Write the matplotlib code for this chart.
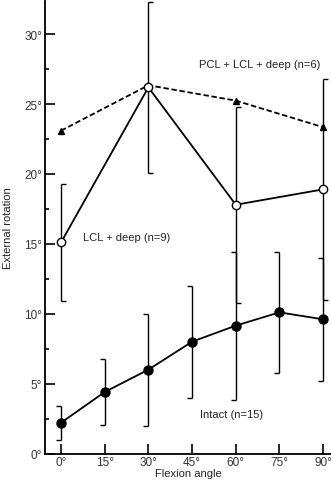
import numpy as np
import matplotlib.pyplot as plt

plt.rcParams['font.family'] = ['Liberation Sans', 'DejaVu Sans']
plt.rcParams['font.size'] = 8

# flexion angles (deg)
angles = [0, 15, 30, 45, 60, 75, 90]
intact = [2.2, 4.4, 6.0, 8.0, 9.15, 10.1, 9.6]
intact_err = [1.2, 2.35, 4.0, 4.0, 5.3, 4.35, 4.4]

lcl_angles = [0, 30, 60, 90]
lcl = [15.1, 26.2, 17.8, 18.9]
lcl_err = [4.2, 6.1, 7.0, 7.9]

pcl_angles = [0, 30, 60, 90]
pcl = [23.1, 26.35, 25.25, 23.35]

tick_labels = ["0°", "15°", "30°", "45°", "60°", "75°", "90°"]
ytick_labels = ["0°", "5°", "10°", "15°", "20°", "25°", "30°"]

cap_w = 1.7  # half-cap length in degrees of flexion

fig = plt.figure(figsize=(3.31, 4.85), dpi=100)
ax = fig.add_axes([45/331, 1 - 454.5/485, (331 - 45)/331, (454.5 - 1.7)/485])

# error bars (one-sided caps like the original)
ax.errorbar(angles, intact, yerr=intact_err, fmt='none', ecolor='k', elinewidth=1.0, capsize=0, zorder=1, clip_on=False)
lo = np.array(intact) - np.array(intact_err)
hi = np.array(intact) + np.array(intact_err)
ax.hlines(np.concatenate([lo, hi]), np.array(angles + angles) - cap_w, np.array(angles + angles), colors='k', lw=1.0, zorder=1)

ax.errorbar(lcl_angles, lcl, yerr=lcl_err, fmt='none', ecolor='k', elinewidth=1.0, capsize=0, zorder=1, clip_on=False)
lo = np.array(lcl) - np.array(lcl_err)
hi = np.array(lcl) + np.array(lcl_err)
ax.hlines(np.concatenate([lo, hi]), np.array(lcl_angles + lcl_angles), np.array(lcl_angles + lcl_angles) + cap_w, colors='k', lw=1.0, zorder=1, clip_on=False)

# series
ax.plot(pcl_angles, pcl, 'k^', ls=(0, (3, 1.5)), lw=1.3, ms=5, zorder=3)
ax.plot(lcl_angles, lcl, 'ko-', mfc='white', mew=1.0, lw=1.3, ms=6, zorder=4)
ax.plot(angles, intact, 'ko-', lw=1.3, ms=6.5, zorder=4)

ax.text(68.2, 27.9, "PCL + LCL + deep (n=6)", ha='center', va='center', color='#222222')
ax.text(22.5, 15.5, "LCL + deep (n=9)", ha='center', va='center', color='#222222')
ax.text(58.7, 2.8, "Intact (n=15)", ha='center', va='center', color='#222222')

ax.set_xlim(-5.5, 92.7)
ax.set_ylim(0, 32.4)
ax.set_xticks(angles)
ax.set_xticklabels(tick_labels)
ax.set_yticks(np.arange(0, 31, 5))
ax.set_yticklabels(ytick_labels)
ax.set_yticks(np.arange(2.5, 32.4, 5), minor=True)

ax.spines['top'].set_visible(False)
ax.spines['right'].set_visible(False)
ax.spines['left'].set_linewidth(1.3)
ax.spines['bottom'].set_linewidth(1.3)
ax.tick_params(axis='both', which='major', direction='in', length=7, width=1.2, pad=2,
               labelsize=8.5, labelcolor='#333333')
ax.tick_params(axis='y', which='minor', direction='in', length=3, width=1.2)

ax.set_xlabel("Flexion angle", labelpad=0, color='#222222')
ax.set_ylabel("External rotation", labelpad=8, color='#222222')

plt.savefig("out.png", dpi=100)
